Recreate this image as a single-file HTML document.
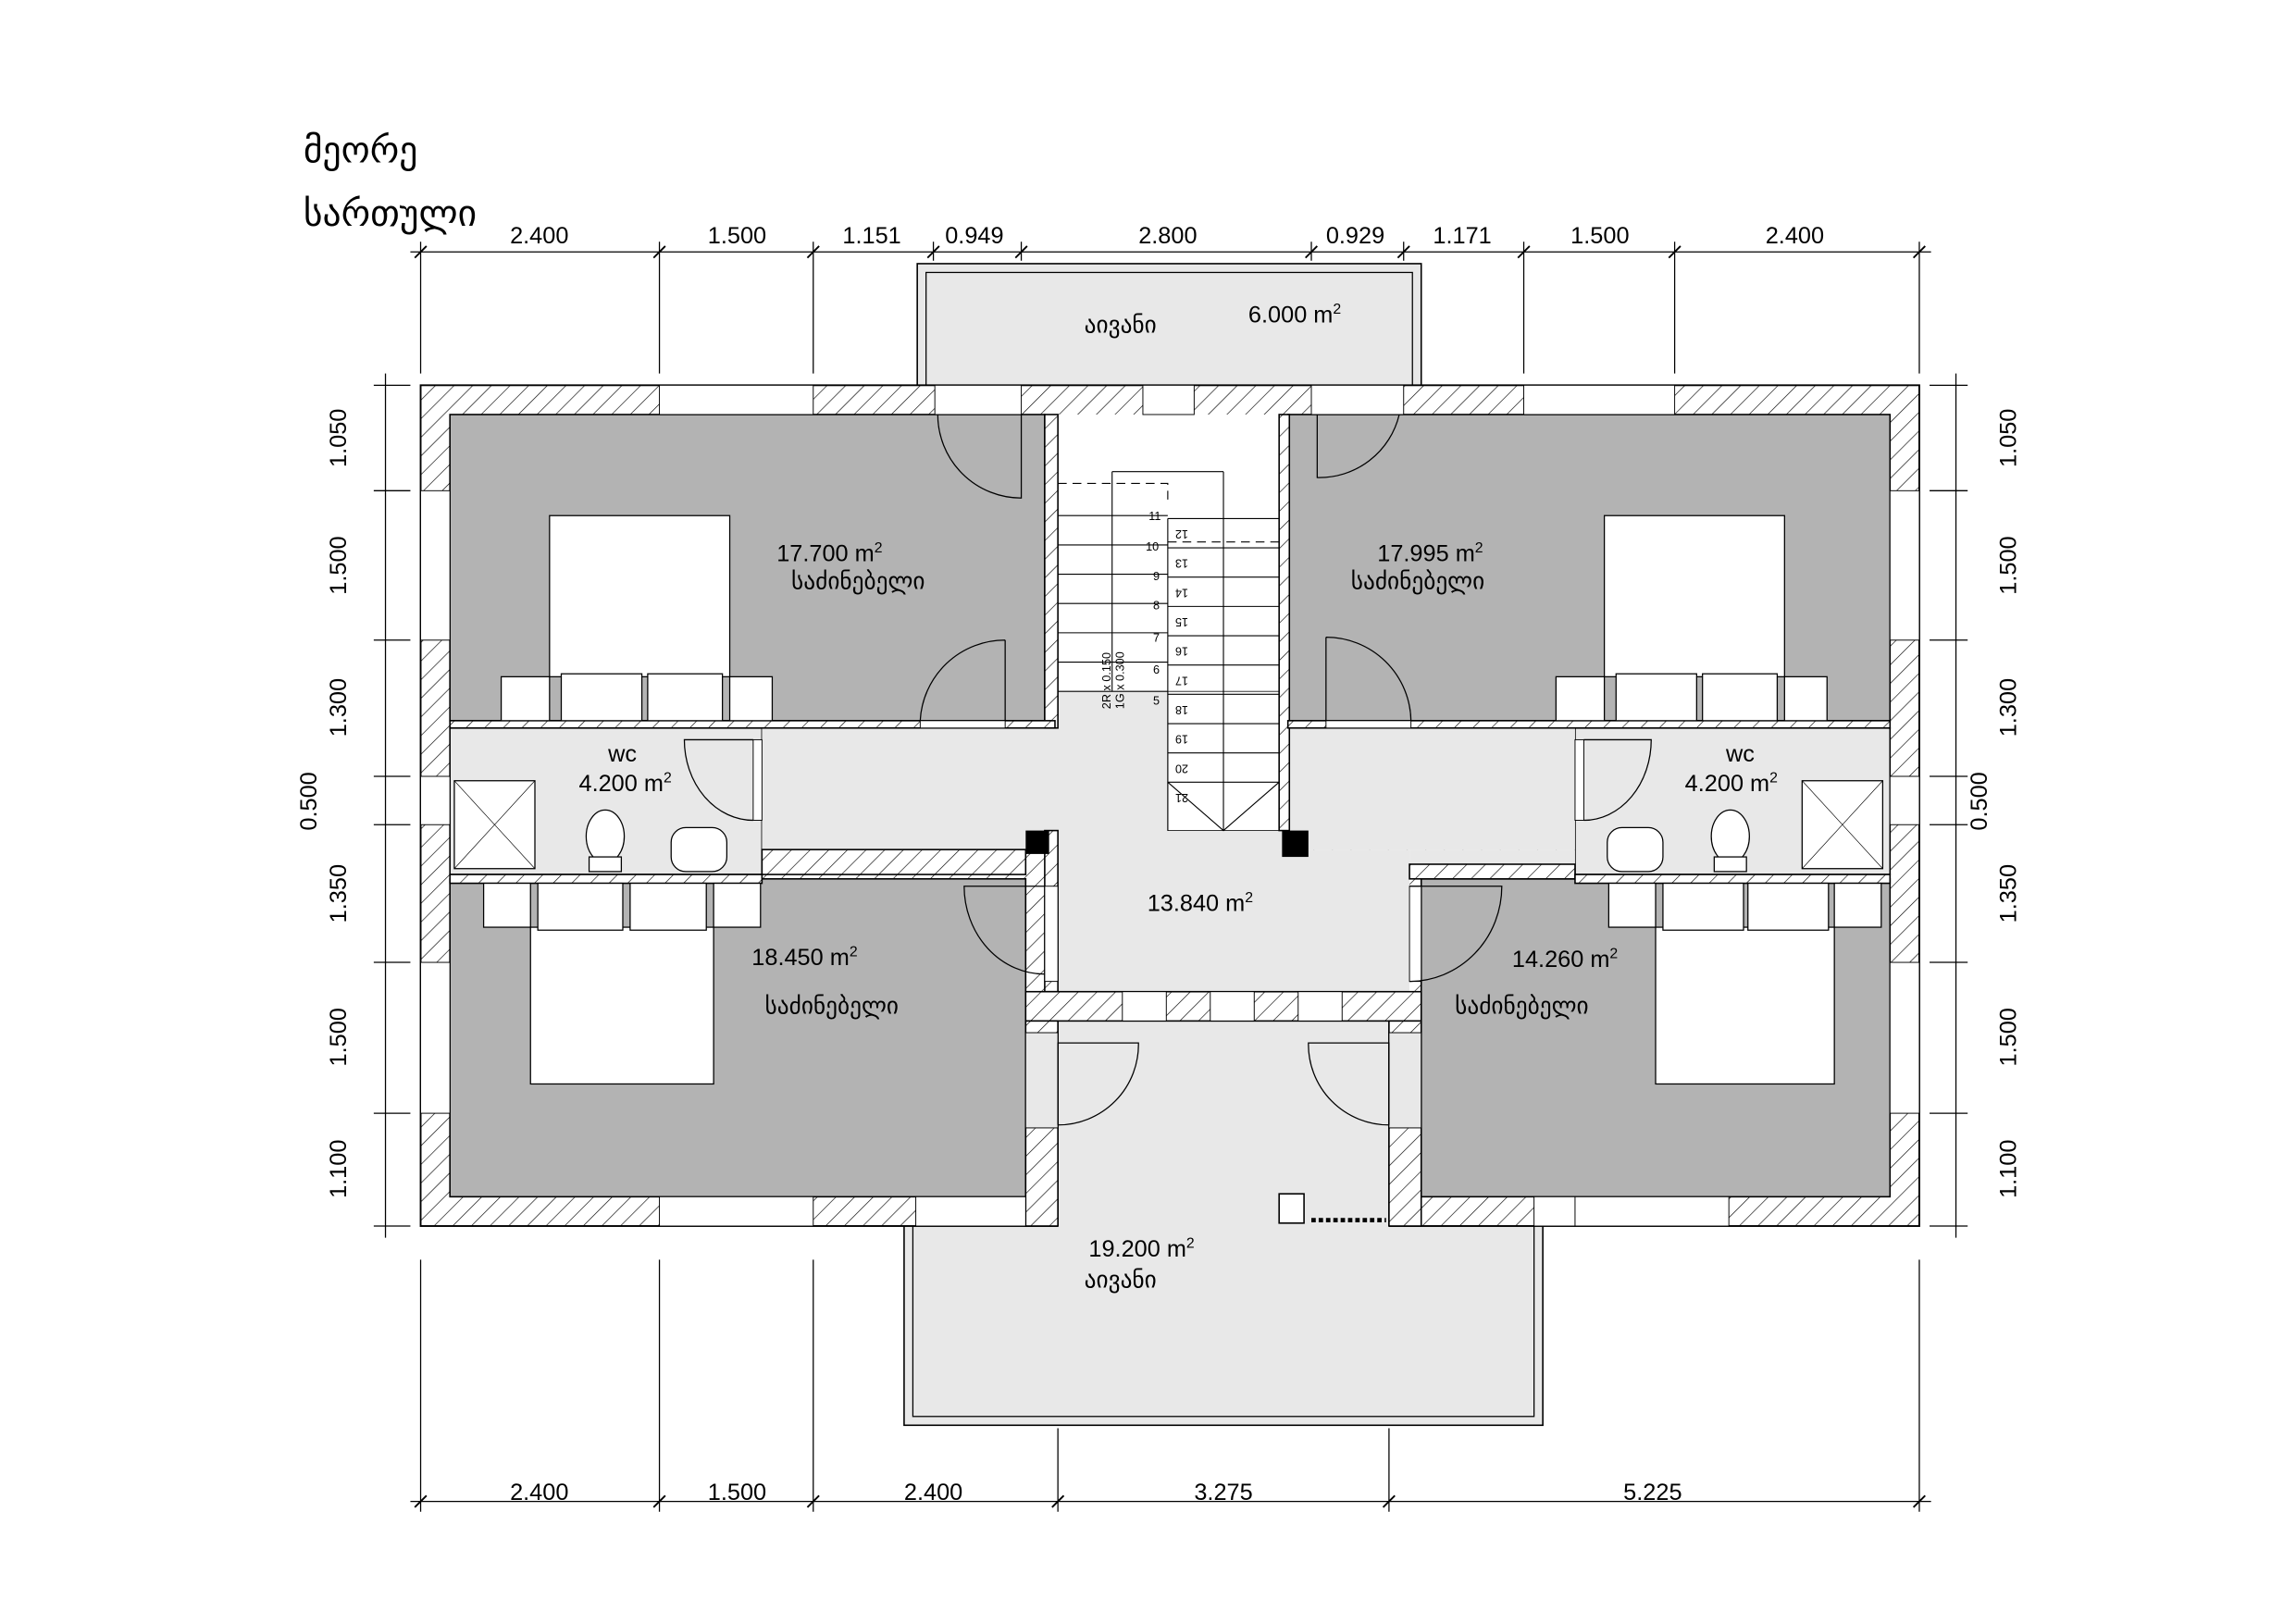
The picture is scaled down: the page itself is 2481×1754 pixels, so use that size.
<!DOCTYPE html>
<html><head><meta charset="utf-8"><style>
html,body{margin:0;padding:0;background:#fff;}
svg{display:block;}
text{font-family:"Liberation Sans","DejaVu Sans",sans-serif;fill:#000;}
</style></head><body>
<svg width="2481" height="1754" viewBox="0 0 1567 1108" xmlns="http://www.w3.org/2000/svg">
<defs>
<pattern id="h" patternUnits="userSpaceOnUse" width="9" height="9" patternTransform="rotate(45)">
<rect width="9" height="9" fill="#fff"/><line x1="0" y1="0" x2="0" y2="9" stroke="#000" stroke-width="0.8"/>
</pattern>
</defs>
<rect width="1567" height="1108" fill="#fff"/>

<!-- balconies -->
<rect x="626" y="180" width="344" height="95" fill="#e8e8e8" stroke="#000" stroke-width="1"/>
<rect x="632" y="186" width="332" height="89" fill="none" stroke="#000" stroke-width="0.8"/>
<rect x="617" y="817" width="436" height="156" fill="#e8e8e8" stroke="#000" stroke-width="1"/>
<rect x="623" y="817" width="424" height="150" fill="none" stroke="#000" stroke-width="0.8"/>

<!-- building base -->
<rect x="287" y="263" width="1023" height="574" fill="url(#h)" stroke="#000" stroke-width="1.2"/>
<!-- rooms -->
<rect x="307" y="283" width="406" height="209" fill="#b3b3b3" stroke="#000"/>
<rect x="879" y="283" width="411" height="209" fill="#b3b3b3" stroke="#000"/>
<rect x="307" y="497" width="213" height="100" fill="#e8e8e8" stroke="#000"/>
<rect x="1075" y="497" width="215" height="100" fill="#e8e8e8" stroke="#000"/>
<rect x="520" y="497" width="555" height="83" fill="#e8e8e8"/>
<rect x="962" y="580" width="113" height="10" fill="#e8e8e8"/>
<rect x="722" y="283" width="151" height="400" fill="#e8e8e8"/>
<rect x="722" y="580" width="240" height="97" fill="#e8e8e8"/>
<rect x="307" y="600" width="393" height="217" fill="#b3b3b3" stroke="#000"/>
<rect x="970" y="600" width="320" height="217" fill="#b3b3b3" stroke="#000"/>
<rect x="722" y="697" width="226" height="141" fill="#e8e8e8"/>
<line x1="722" y1="697" x2="722" y2="837" stroke="#000"/><line x1="948" y1="697" x2="948" y2="837" stroke="#000"/>
<rect x="520" y="580" width="180" height="17" fill="url(#h)" stroke="#000"/>
<rect x="962" y="590" width="113" height="10" fill="url(#h)" stroke="#000"/>
<!-- stairs -->
<rect x="722" y="283" width="151" height="189" fill="#fff"/>
<rect x="797" y="472" width="76" height="95" fill="#fff" stroke="#000" stroke-width="0.5"/>
<g stroke="#000" stroke-width="0.7">
<line x1="722" y1="352" x2="797" y2="352"/><line x1="722" y1="372" x2="797" y2="372"/><line x1="722" y1="392" x2="797" y2="392"/><line x1="722" y1="412" x2="797" y2="412"/><line x1="722" y1="432" x2="797" y2="432"/><line x1="722" y1="452" x2="797" y2="452"/><line x1="722" y1="472" x2="797" y2="472"/>
<line x1="797" y1="354" x2="873" y2="354"/><line x1="797" y1="374" x2="873" y2="374"/><line x1="797" y1="394" x2="873" y2="394"/><line x1="797" y1="414" x2="873" y2="414"/><line x1="797" y1="434" x2="873" y2="434"/><line x1="797" y1="454" x2="873" y2="454"/><line x1="797" y1="474" x2="873" y2="474"/><line x1="797" y1="494" x2="873" y2="494"/><line x1="797" y1="514" x2="873" y2="514"/><line x1="797" y1="534" x2="873" y2="534"/>
<line x1="797" y1="354" x2="797" y2="567"/><line x1="835" y1="322" x2="835" y2="567"/><line x1="759" y1="322" x2="835" y2="322"/><line x1="759" y1="322" x2="759" y2="472"/>
<polyline points="797,534 835,567 873,534" fill="none"/>
<polyline points="722,330 797,330 797,345" fill="none" stroke-dasharray="6,4"/>
<line x1="797" y1="370" x2="873" y2="370" stroke-dasharray="6,4"/>
</g>
<g font-size="8">
<text x="784" y="355">11</text><text x="782" y="376">10</text><text x="787" y="396">9</text><text x="787" y="416">8</text><text x="787" y="438">7</text><text x="787" y="460">6</text><text x="787" y="481">5</text>
<text transform="translate(811,362) rotate(180)">12</text>
<text transform="translate(811,382) rotate(180)">13</text><text transform="translate(811,402) rotate(180)">14</text><text transform="translate(811,422) rotate(180)">15</text><text transform="translate(811,442) rotate(180)">16</text><text transform="translate(811,462) rotate(180)">17</text><text transform="translate(811,482) rotate(180)">18</text><text transform="translate(811,502) rotate(180)">19</text><text transform="translate(811,522) rotate(180)">20</text><text transform="translate(811,542) rotate(180)">21</text>
<text transform="translate(758,484) rotate(-90)">2R x 0.150</text><text transform="translate(767,484) rotate(-90)">1G x 0.300</text>
</g>
<!-- stair walls -->
<rect x="713" y="283" width="9" height="214" fill="url(#h)" stroke="#000"/>
<rect x="873" y="283" width="7" height="284" fill="url(#h)" stroke="#000"/>
<rect x="713" y="567" width="9" height="110" fill="url(#h)" stroke="#000"/>
<rect x="700" y="567" width="16" height="16" fill="#000"/>
<rect x="875" y="567" width="18" height="18" fill="#000"/>
<!-- horizontal walls -->
<rect x="307" y="492" width="413" height="5" fill="url(#h)" stroke="#000"/>
<rect x="879" y="492" width="411" height="5" fill="url(#h)" stroke="#000"/>
<rect x="307" y="597" width="213" height="6" fill="url(#h)" stroke="#000"/>
<rect x="1075" y="597" width="215" height="6" fill="url(#h)" stroke="#000"/>
<rect x="700" y="677" width="270" height="20" fill="url(#h)" stroke="#000"/>
<rect x="700" y="697" width="22" height="140" fill="url(#h)" stroke="#000"/>
<rect x="948" y="697" width="22" height="140" fill="url(#h)" stroke="#000"/>
<!-- openings in walls (white) -->
<g fill="#fff" stroke="#000" stroke-width="0.6">
<rect x="450" y="263" width="105" height="20"/><rect x="638" y="263" width="59" height="20"/><rect x="780" y="263" width="35" height="20"/><rect x="895" y="263" width="63" height="20"/><rect x="1040" y="263" width="103" height="20"/>
<rect x="450" y="817" width="105" height="20"/><rect x="625" y="817" width="75" height="20"/><rect x="1047" y="817" width="28" height="20"/><rect x="1075" y="817" width="105" height="20"/>
<rect x="287" y="335" width="20" height="102"/><rect x="287" y="530" width="20" height="33"/><rect x="287" y="657" width="20" height="103"/>
<rect x="1290" y="335" width="20" height="102"/><rect x="1290" y="530" width="20" height="33"/><rect x="1290" y="657" width="20" height="103"/>
<rect x="628" y="492" width="58" height="5"/><rect x="905" y="492" width="58" height="5"/>
<rect x="766" y="677" width="30" height="20"/><rect x="826" y="677" width="30" height="20"/><rect x="886" y="677" width="30" height="20"/>
<rect x="514" y="505" width="6" height="55"/><rect x="1075" y="505" width="6" height="55"/>
<rect x="713" y="605" width="9" height="65"/><rect x="962" y="605" width="8" height="65"/>
<rect x="700" y="705" width="22" height="65" fill="#e8e8e8"/><rect x="948" y="705" width="22" height="65" fill="#e8e8e8"/>
</g>
<!-- doors -->
<g fill="none" stroke="#000" stroke-width="0.8">
<path d="M697 283 V340 A57 57 0 0 1 640 283"/>
<path d="M899 283 V326 A56 56 0 0 0 955 283"/>
<path d="M686 437 V492 M628 492 A58 58 0 0 1 686 437"/>
<path d="M905 435 V492 M963 492 A58 58 0 0 0 905 435"/>
<path d="M514 505 H467 A47 55 0 0 0 514 560"/>
<path d="M1081 505 H1127 A46 55 0 0 1 1081 560"/>
<path d="M713 605 H658 A55 60 0 0 0 713 665"/>
<path d="M962 605 H1025 A63 65 0 0 1 962 670"/>
<path d="M722 768 V712 H777 A55 55 0 0 1 722 768"/>
<path d="M948 768 V712 H893 A55 55 0 0 0 948 768"/>
</g>
<rect x="873" y="815" width="17" height="20" fill="#fff" stroke="#000"/>
<line x1="895" y1="833" x2="946" y2="833" stroke="#000" stroke-width="3" stroke-dasharray="3,2"/>
<!-- beds -->
<g fill="#fff" stroke="#000" stroke-width="0.8">
<rect x="342" y="462" width="33" height="30"/><rect x="498" y="462" width="29" height="30"/><rect x="375" y="352" width="123" height="110"/><rect x="383" y="460" width="55" height="32"/><rect x="442" y="460" width="51" height="32"/>
<rect x="1062" y="462" width="33" height="30"/><rect x="1218" y="462" width="29" height="30"/><rect x="1095" y="352" width="123" height="110"/><rect x="1103" y="460" width="55" height="32"/><rect x="1162" y="460" width="51" height="32"/>
<rect x="330" y="603" width="32" height="30"/><rect x="487" y="603" width="32" height="30"/><rect x="362" y="633" width="125" height="107"/><rect x="367" y="603" width="58" height="32"/><rect x="430" y="603" width="52" height="32"/>
<rect x="1098" y="603" width="32" height="30"/><rect x="1252" y="603" width="32" height="30"/><rect x="1130" y="633" width="122" height="107"/><rect x="1135" y="603" width="55" height="32"/><rect x="1193" y="603" width="55" height="32"/>
<!-- wc fixtures -->
<rect x="310" y="533" width="55" height="60"/><path d="M310 533 L365 593 M365 533 L310 593" stroke-width="0.4"/>
<rect x="1230" y="533" width="55" height="60"/><path d="M1230 533 L1285 593 M1285 533 L1230 593" stroke-width="0.4"/>
<ellipse cx="413" cy="571" rx="13" ry="18"/><rect x="402" y="585" width="22" height="10"/>
<ellipse cx="1181" cy="571" rx="13" ry="18"/><rect x="1170" y="585" width="22" height="10"/>
<rect x="458" y="565" width="38" height="30" rx="10"/><rect x="1097" y="565" width="38" height="30" rx="10"/>
</g>
<!-- dimension lines -->
<g stroke="#000" stroke-width="0.8" fill="none">
<line x1="280" y1="172" x2="1318" y2="172"/>
<line x1="280" y1="1025" x2="1318" y2="1025"/>
<line x1="263" y1="255" x2="263" y2="845"/>
<line x1="1335" y1="255" x2="1335" y2="845"/>
<path d="M287 165V255 M450 165V255 M555 165V255 M637 165V178 M697 165V178 M895 165V178 M958 165V178 M1040 165V255 M1143 165V255 M1310 165V255"/>
<path d="M287 860V1032 M450 860V1032 M555 860V1032 M722 975V1032 M948 975V1032 M1310 860V1032"/>
<path d="M255 263H280 M255 335H280 M255 437H280 M255 530H280 M255 563H280 M255 657H280 M255 760H280 M255 837H280"/>
<path d="M1317 263H1343 M1317 335H1343 M1317 437H1343 M1317 530H1343 M1317 563H1343 M1317 657H1343 M1317 760H1343 M1317 837H1343"/>
</g>
<g stroke="#000" stroke-width="1.2">
<path d="M283 176L291 168 M446 176L454 168 M551 176L559 168 M633 176L641 168 M693 176L701 168 M891 176L899 168 M954 176L962 168 M1036 176L1044 168 M1139 176L1147 168 M1306 176L1314 168"/>
<path d="M283 1029L291 1021 M446 1029L454 1021 M551 1029L559 1021 M718 1029L726 1021 M944 1029L952 1021 M1306 1029L1314 1021"/>
</g>
<g font-size="16" text-anchor="middle">
<text x="368" y="166">2.400</text><text x="503" y="166">1.500</text><text x="595" y="166">1.151</text><text x="665" y="166">0.949</text><text x="797" y="166">2.800</text><text x="925" y="166">0.929</text><text x="998" y="166">1.171</text><text x="1092" y="166">1.500</text><text x="1225" y="166">2.400</text>
<text x="368" y="1024">2.400</text><text x="503" y="1024">1.500</text><text x="637" y="1024">2.400</text><text x="835" y="1024">3.275</text><text x="1128" y="1024">5.225</text>
<text transform="translate(236,299) rotate(-90)">1.050</text><text transform="translate(236,386) rotate(-90)">1.500</text><text transform="translate(236,483) rotate(-90)">1.300</text><text transform="translate(216,547) rotate(-90)">0.500</text><text transform="translate(236,610) rotate(-90)">1.350</text><text transform="translate(236,708) rotate(-90)">1.500</text><text transform="translate(236,798) rotate(-90)">1.100</text>
<text transform="translate(1376,299) rotate(-90)">1.050</text><text transform="translate(1376,386) rotate(-90)">1.500</text><text transform="translate(1376,483) rotate(-90)">1.300</text><text transform="translate(1356,547) rotate(-90)">0.500</text><text transform="translate(1376,610) rotate(-90)">1.350</text><text transform="translate(1376,708) rotate(-90)">1.500</text><text transform="translate(1376,798) rotate(-90)">1.100</text>
</g>
<!-- labels -->
<g font-size="16">
<text x="207" y="111" font-size="25" style="font-family:'DejaVu Sans',sans-serif">მეორე</text>
<text x="207" y="154" font-size="25" style="font-family:'DejaVu Sans',sans-serif">სართული</text>
<text x="740" y="227" style="font-family:'DejaVu Sans',sans-serif">აივანი</text>
<text x="852" y="220">6.000 m<tspan font-size="10" dy="-6">2</tspan></text>
<text x="530" y="383">17.700 m<tspan font-size="10" dy="-6">2</tspan></text>
<text x="540" y="402" style="font-family:'DejaVu Sans',sans-serif">საძინებელი</text>
<text x="940" y="383">17.995 m<tspan font-size="10" dy="-6">2</tspan></text>
<text x="922" y="402" style="font-family:'DejaVu Sans',sans-serif">საძინებელი</text>
<text x="415" y="520">wc</text><text x="395" y="540">4.200 m<tspan font-size="10" dy="-6">2</tspan></text>
<text x="1178" y="520">wc</text><text x="1150" y="540">4.200 m<tspan font-size="10" dy="-6">2</tspan></text>
<text x="783" y="622">13.840 m<tspan font-size="10" dy="-6">2</tspan></text>
<text x="513" y="659">18.450 m<tspan font-size="10" dy="-6">2</tspan></text>
<text x="522" y="692" style="font-family:'DejaVu Sans',sans-serif">საძინებელი</text>
<text x="1032" y="660">14.260 m<tspan font-size="10" dy="-6">2</tspan></text>
<text x="993" y="692" style="font-family:'DejaVu Sans',sans-serif">საძინებელი</text>
<text x="743" y="858">19.200 m<tspan font-size="10" dy="-6">2</tspan></text>
<text x="740" y="879" style="font-family:'DejaVu Sans',sans-serif">აივანი</text>
</g>
</svg>
</body></html>
